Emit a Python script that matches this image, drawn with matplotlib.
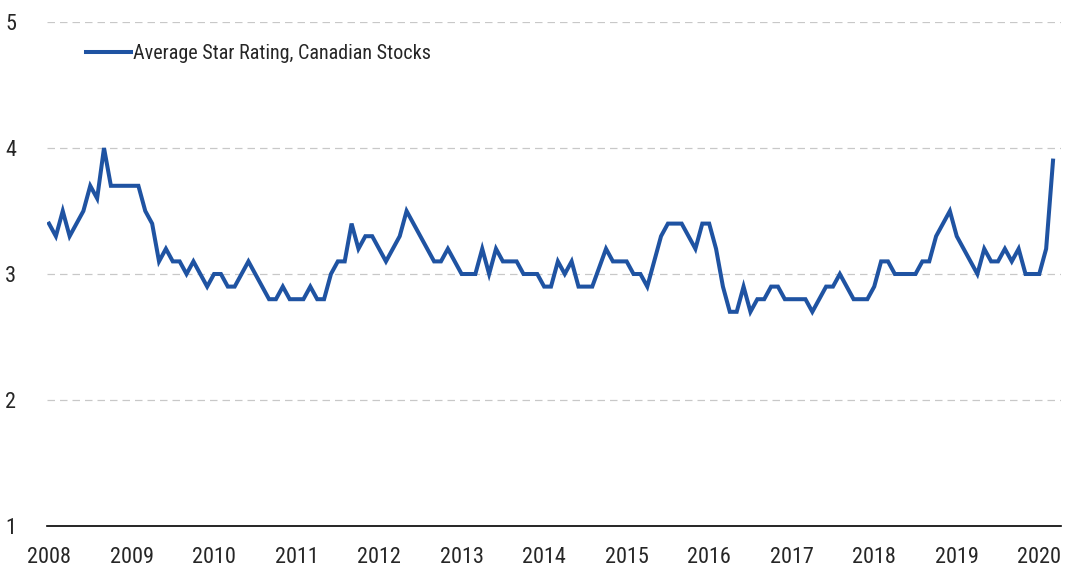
import matplotlib
matplotlib.use("Agg")
import matplotlib.pyplot as plt
from matplotlib import font_manager

# ---- data (monthly, Jan 2008 .. Mar 2020) ----
series_name = "Average Star Rating, Canadian Stocks"
years = [str(y) for y in range(2008, 2021)]
ratings = [
    3.4, 3.3, 3.5, 3.3, 3.4, 3.5, 3.7, 3.6, 4.0, 3.7, 3.7, 3.7, 3.7, 3.7, 3.5, 3.4, 3.1, 3.2, 3.1, 3.1, 3.0, 3.1, 3.0, 2.9, 3.0,
    3.0, 2.9, 2.9, 3.0, 3.1, 3.0, 2.9, 2.8, 2.8, 2.9, 2.8, 2.8, 2.8, 2.9, 2.8, 2.8, 3.0, 3.1, 3.1, 3.4, 3.2, 3.3, 3.3, 3.2, 3.1,
    3.2, 3.3, 3.5, 3.4, 3.3, 3.2, 3.1, 3.1, 3.2, 3.1, 3.0, 3.0, 3.0, 3.2, 3.0, 3.2, 3.1, 3.1, 3.1, 3.0, 3.0, 3.0, 2.9, 2.9, 3.1,
    3.0, 3.1, 2.9, 2.9, 2.9, 3.05, 3.2, 3.1, 3.1, 3.1, 3.0, 3.0, 2.9, 3.1, 3.3, 3.4, 3.4, 3.4, 3.3, 3.2, 3.4, 3.4, 3.2, 2.9, 2.7,
    2.7, 2.9, 2.7, 2.8, 2.8, 2.9, 2.9, 2.8, 2.8, 2.8, 2.8, 2.7, 2.8, 2.9, 2.9, 3.0, 2.9, 2.8, 2.8, 2.8, 2.9, 3.1, 3.1, 3.0, 3.0,
    3.0, 3.0, 3.1, 3.1, 3.3, 3.4, 3.5, 3.3, 3.2, 3.1, 3.0, 3.2, 3.1, 3.1, 3.2, 3.1, 3.2, 3.0, 3.0, 3.0, 3.2, 3.9,
]
y_ticks = [1, 2, 3, 4, 5]

# ---- font: prefer a condensed face ----
names = {f.name for f in font_manager.fontManager.ttflist}
condensed = [n for n in ["Liberation Sans Narrow", "Roboto Condensed", "Open Sans Condensed",
                         "DejaVu Sans Condensed"] if n in names]
if condensed:
    plt.rcParams["font.family"] = [condensed[0], "DejaVu Sans"]
else:
    plt.rcParams["font.family"] = ["DejaVu Sans"]
    plt.rcParams["font.stretch"] = "condensed"

text_color = "#262626"
line_color = "#1F53A2"

fig = plt.figure(figsize=(10.72, 5.83), dpi=100)
ax = fig.add_axes([47 / 1072, 57 / 583, (1061 - 47) / 1072, (526 - 22) / 583])

x = list(range(len(ratings)))
ax.plot(x, ratings, color=line_color, lw=2.9, solid_joinstyle="miter", label=series_name, zorder=3)

ax.set_ylim(1, 5)
ax.set_xlim(-0.29, 147.16)
ax.set_yticks(y_ticks)
ax.set_yticklabels([str(v) for v in y_ticks])
ax.set_xticks(list(range(0, len(ratings), 12)))
ax.set_xticklabels(years)

for v in y_ticks[1:]:
    ax.axhline(v, color="#C8C8C8", lw=0.9, ls=(0, (6, 4)), zorder=1)

for s in ["top", "right", "left"]:
    ax.spines[s].set_visible(False)
ax.spines["bottom"].set_color("#000000")
ax.spines["bottom"].set_linewidth(1.2)

ax.tick_params(axis="both", length=0, labelsize=16, colors=text_color)
ax.tick_params(axis="y", pad=22)
ax.tick_params(axis="x", pad=15)

leg = ax.legend(loc="upper left", bbox_to_anchor=(0.031, 0.973), frameon=False,
                fontsize=14.5, handlelength=2.2, handletextpad=0.1, borderaxespad=0)
for t in leg.get_texts():
    t.set_color(text_color)

fig.savefig("out.png", dpi=100, facecolor="white")
